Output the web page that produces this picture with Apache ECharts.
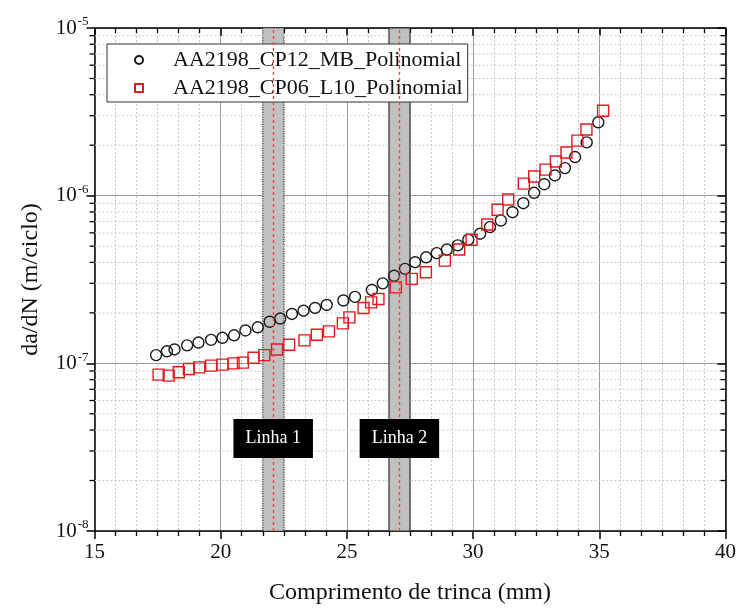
<!DOCTYPE html>
<html>
<head>
<meta charset="utf-8">
<script src="https://cdn.jsdelivr.net/npm/echarts@6/dist/echarts.min.js"></script>
<style>
  html, body { margin: 0; padding: 0; background: #fff; }
  #chart { width: 739px; height: 610px; }
</style>
</head>
<body>
<div id="chart"></div>
<script>
// Crack length (mm) and crack growth rate da/dN (m/cycle)
const cp12Name = 'AA2198_CP12_MB_Polinomial';
const cp12X = [17.44, 17.87, 18.17, 18.67, 19.12, 19.62, 20.07, 20.53, 20.98, 21.47,
               21.94, 22.36, 22.82, 23.28, 23.74, 24.20, 24.86, 25.32, 25.99, 26.42,
               26.87, 27.30, 27.70, 28.14, 28.56, 28.96, 29.39, 29.81, 30.28, 30.67,
               31.10, 31.56, 31.99, 32.42, 32.82, 33.24, 33.64, 34.04, 34.50, 34.96];
const cp12Y = [1.12e-7, 1.18e-7, 1.21e-7, 1.28e-7, 1.33e-7, 1.38e-7, 1.42e-7, 1.47e-7, 1.57e-7, 1.64e-7,
               1.77e-7, 1.85e-7, 1.97e-7, 2.06e-7, 2.14e-7, 2.23e-7, 2.37e-7, 2.49e-7, 2.74e-7, 3.00e-7,
               3.33e-7, 3.66e-7, 4.01e-7, 4.29e-7, 4.54e-7, 4.77e-7, 5.05e-7, 5.46e-7, 5.93e-7, 6.49e-7,
               7.11e-7, 7.97e-7, 9.02e-7, 1.04e-6, 1.17e-6, 1.32e-6, 1.46e-6, 1.70e-6, 2.08e-6, 2.74e-6];

const cp06Name = 'AA2198_CP06_L10_Polinomial';
const cp06X = [17.54, 17.94, 18.34, 18.74, 19.15, 19.62, 20.07, 20.51, 20.88, 21.30,
               21.73, 22.23, 22.71, 23.32, 23.81, 24.29, 24.84, 25.10, 25.66, 25.96,
               26.25, 26.94, 27.57, 28.13, 28.88, 29.45, 29.94, 30.56, 30.97, 31.39,
               32.01, 32.42, 32.87, 33.28, 33.70, 34.13, 34.49, 35.15];
const cp06Y = [8.56e-8, 8.45e-8, 8.84e-8, 9.26e-8, 9.46e-8, 9.69e-8, 9.82e-8, 1.00e-7, 1.01e-7, 1.08e-7,
               1.12e-7, 1.21e-7, 1.29e-7, 1.37e-7, 1.48e-7, 1.55e-7, 1.73e-7, 1.88e-7, 2.14e-7, 2.31e-7,
               2.42e-7, 2.84e-7, 3.19e-7, 3.49e-7, 4.10e-7, 4.77e-7, 5.46e-7, 6.73e-7, 8.24e-7, 9.49e-7,
               1.18e-6, 1.30e-6, 1.43e-6, 1.60e-6, 1.81e-6, 2.13e-6, 2.48e-6, 3.21e-6];

// Measurement lines: shaded band limits, centre line and caption
const bandStart = [21.667, 26.667];
const bandEnd = [22.5, 27.5];
const lineCenter = [22.08, 27.08];
const lineCaption = ['Linha 1', 'Linha 2'];
const captionY = 3.56e-8;

// Axis ranges and ticks
const X_MIN = 15, X_MAX = 40, X_STEP = 5;
const Y_MIN = 1e-8, Y_MAX = 1e-5;
const yMinorMantissa = [2, 3, 4, 5, 6, 7, 8, 9];
const yDecades = [-8, -7, -6];

const FONT = '"Liberation Serif", "Times New Roman", serif';

const yMinorValues = [];
yDecades.forEach(d => yMinorMantissa.forEach(m => yMinorValues.push(m * Math.pow(10, d))));

const zip = (xs, ys) => xs.map((x, i) => [x, ys[i]]);

const axisLineStyle = { color: '#000', width: 1.5 };

const chart = echarts.init(document.getElementById('chart'), null, { renderer: 'canvas' });

chart.setOption({
  animation: false,
  backgroundColor: '#fff',
  grid: { left: 94.5, right: 12, top: 28, bottom: 79, containLabel: false },
  legend: {
    data: [
      { name: cp12Name, icon: 'circle' },
      { name: cp06Name, icon: 'rect' }
    ],
    orient: 'vertical',
    left: 107,
    top: 44,
    padding: [5, 5, 3, 27],
    itemGap: 6,
    itemWidth: 8,
    itemHeight: 8,
    backgroundColor: '#fff',
    borderColor: '#333',
    borderWidth: 1,
    borderRadius: 0,
    textStyle: { fontFamily: FONT, fontSize: 22, color: '#111', lineHeight: 22, padding: [0, 0, 0, 25] }
  },
  xAxis: [{
    type: 'value', min: X_MIN, max: X_MAX, interval: X_STEP, position: 'bottom',
    axisLine: { show: true, onZero: false, lineStyle: axisLineStyle },
    axisTick: { show: true, inside: false, length: 8, lineStyle: axisLineStyle },
    minorTick: { show: true, splitNumber: 6, length: 5, lineStyle: { color: '#000', width: 1.3 } },
    axisLabel: { fontFamily: FONT, fontSize: 21, color: '#111', margin: 11 },
    splitLine: { show: true, lineStyle: { color: '#9a9a9a', width: 1 } },
    minorSplitLine: { show: true, lineStyle: { color: '#c8c8c8', width: 1, type: [2, 2] } },
    name: 'Comprimento de trinca (mm)', nameLocation: 'middle', nameGap: 50,
    nameTextStyle: { fontFamily: FONT, fontSize: 24, color: '#111' }
  }, {
    type: 'value', min: X_MIN, max: X_MAX, interval: X_STEP, position: 'top',
    axisLine: { show: true, onZero: false, lineStyle: axisLineStyle },
    axisTick: { show: true, inside: true, length: 8, lineStyle: axisLineStyle },
    minorTick: { show: true, splitNumber: 6, length: 5, lineStyle: { color: '#000', width: 1.3 } },
    axisLabel: { show: false },
    splitLine: { show: false }
  }],
  yAxis: [{
    type: 'log', logBase: 10, min: Y_MIN, max: Y_MAX, position: 'left',
    axisLine: { show: true, onZero: false, lineStyle: axisLineStyle },
    axisTick: { show: true, inside: false, length: 8, lineStyle: axisLineStyle },
    axisLabel: {
      margin: 6,
      formatter: v => '{b|10}{s|' + Math.round(Math.log10(v)) + '}',
      rich: {
        b: { fontFamily: FONT, fontSize: 21, color: '#111' },
        s: { fontFamily: FONT, fontSize: 13, color: '#111', padding: [0, 0, 12, 1] }
      }
    },
    splitLine: { show: true, lineStyle: { color: '#9a9a9a', width: 1 } },
    name: 'da/dN (m/ciclo)', nameLocation: 'middle', nameGap: 52, nameRotate: 90,
    nameTextStyle: { fontFamily: FONT, fontSize: 24, color: '#111' }
  }, {
    type: 'log', logBase: 10, min: Y_MIN, max: Y_MAX, position: 'right',
    axisLine: { show: true, onZero: false, lineStyle: axisLineStyle },
    axisTick: { show: true, inside: true, length: 8, lineStyle: axisLineStyle },
    axisLabel: { show: false },
    splitLine: { show: false }
  }],
  series: [
    {
      // dotted minor grid lines at 2..9 of each decade
      type: 'custom', name: 'yMinorGrid', silent: true, z: 1,
      xAxisIndex: 0, yAxisIndex: 0,
      data: yMinorValues.map(v => [X_MIN, v]),
      renderItem: (params, api) => {
        const v = api.value(1);
        const a = api.coord([X_MIN, v]);
        const b = api.coord([X_MAX, v]);
        return {
          type: 'line',
          shape: { x1: a[0], y1: a[1], x2: b[0], y2: b[1] },
          style: { stroke: '#c8c8c8', lineWidth: 1, lineDash: [2, 2] }
        };
      }
    },
    {
      type: 'line', name: 'bands', silent: true, z: 2, data: [],
      markArea: {
        silent: true,
        data: bandStart.map((s, i) => [
          { xAxis: s, itemStyle: { color: '#c0c0c0', opacity: 1, borderColor: '#333', borderWidth: 1.2, borderType: i === 0 ? 'dotted' : 'solid' } },
          { xAxis: bandEnd[i] }
        ])
      },
      markLine: {
        silent: true,
        symbol: ['none', 'none'],
        label: { show: false },
        lineStyle: { color: '#e8474b', width: 1.4, type: [3, 3] },
        data: lineCenter.map(x => ({ xAxis: x }))
      }
    },
    {
      type: 'scatter', name: cp12Name, z: 4,
      symbol: 'circle', symbolSize: 11,
      itemStyle: { color: 'rgba(0,0,0,0)', borderColor: '#1a1a1a', borderWidth: 1.4, opacity: 1 },
      data: zip(cp12X, cp12Y)
    },
    {
      type: 'scatter', name: cp06Name, z: 4,
      symbol: 'rect', symbolSize: 11,
      itemStyle: { color: 'rgba(0,0,0,0)', borderColor: '#e3191f', borderWidth: 1.4, opacity: 1 },
      data: zip(cp06X, cp06Y)
    },
    {
      type: 'scatter', name: 'captions', silent: true, z: 6,
      symbolSize: 0,
      itemStyle: { opacity: 1 },
      data: lineCenter.map((x, i) => [x, captionY, lineCaption[i]]),
      label: {
        show: true, position: 'inside', opacity: 1,
        formatter: p => p.data[2],
        backgroundColor: '#000', color: '#fff',
        fontFamily: FONT, fontSize: 18,
        padding: [11, 12, 10, 12]
      }
    },
    {
      // minor ticks of the log axes (outside on the left, inside on the right)
      type: 'custom', name: 'yMinorTicks', silent: true, z: 10,
      xAxisIndex: 0, yAxisIndex: 0,
      data: yMinorValues.map(v => [X_MIN, v]),
      renderItem: (params, api) => {
        const v = api.value(1);
        const a = api.coord([X_MIN, v]);
        const b = api.coord([X_MAX, v]);
        const st = { stroke: '#000', lineWidth: 1.3 };
        return {
          type: 'group',
          children: [
            { type: 'line', shape: { x1: a[0] - 5, y1: a[1], x2: a[0], y2: a[1] }, style: st },
            { type: 'line', shape: { x1: b[0] - 5, y1: b[1], x2: b[0], y2: b[1] }, style: st }
          ]
        };
      }
    }
  ]
});
</script>
</body>
</html>
